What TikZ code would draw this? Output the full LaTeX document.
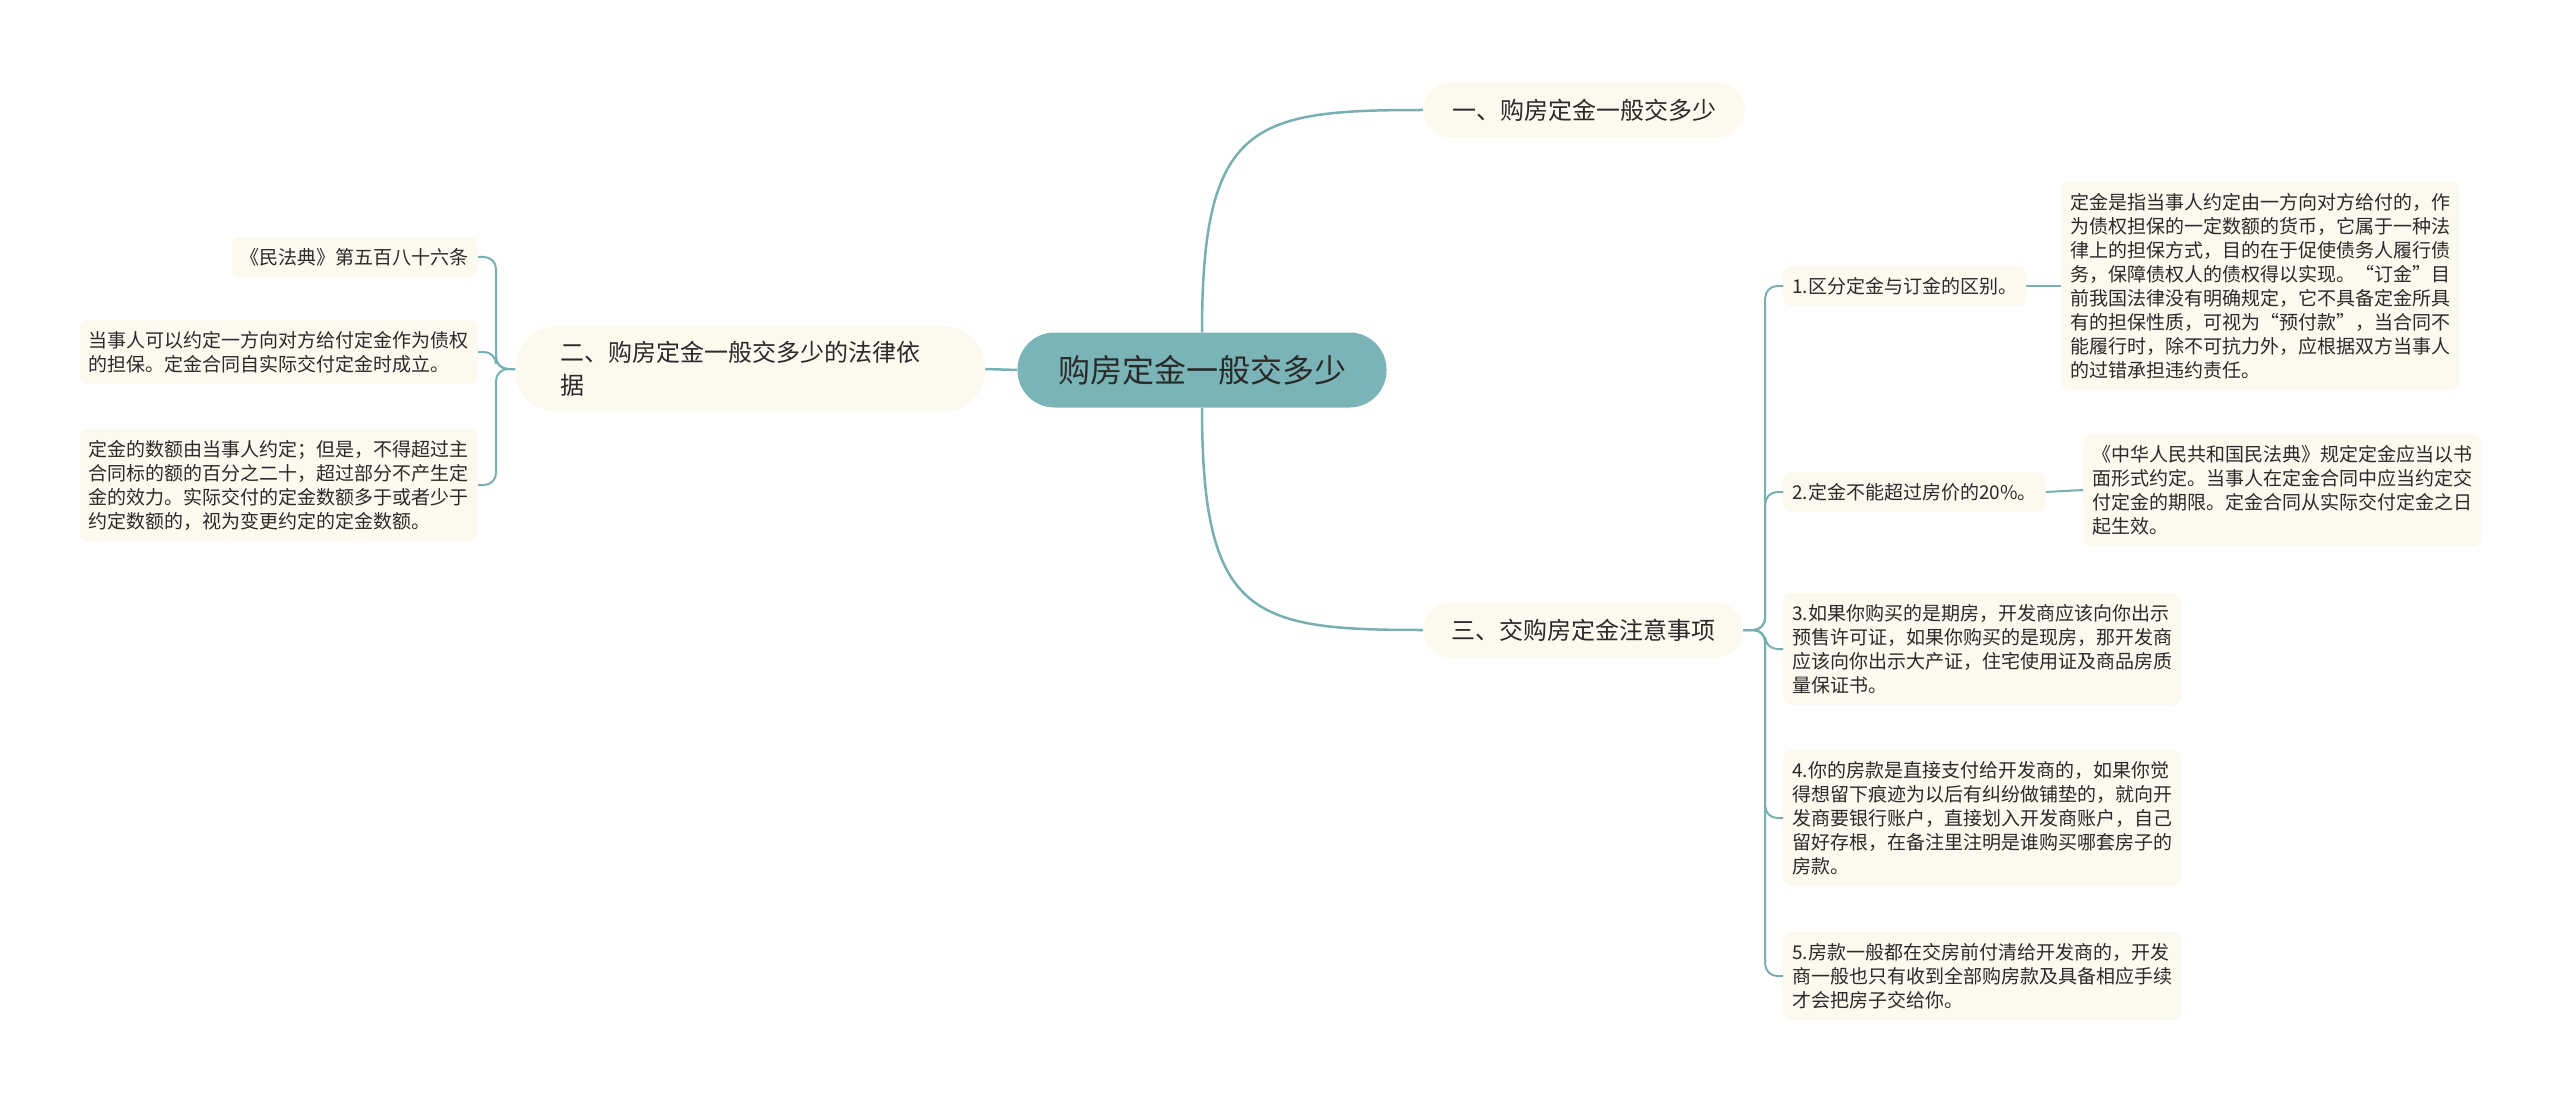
\documentclass[tikz,border=0pt]{standalone}
\usepackage{fontspec}
\newfontfamily\cjkfont{Noto Sans CJK SC}
\usepackage{tikz}
\usetikzlibrary{positioning}
\definecolor{linkc}{HTML}{78AFB1}
\definecolor{rootc}{HTML}{7BB4B6}
\definecolor{creamc}{HTML}{FCF9EF}
\definecolor{inkc}{HTML}{2A2A2A}
\tikzset{
  rootbox/.style={fill=rootc,rounded corners=37pt,minimum width=369pt,minimum height=75pt,font=\cjkfont\fontsize{32}{38}\selectfont,text=inkc},
  topic/.style={fill=creamc,rounded corners=27pt,minimum height=55pt,font=\cjkfont\fontsize{24}{33}\selectfont,text=inkc},
  leaf/.style={fill=creamc,rounded corners=8pt,inner xsep=9pt,inner ysep=11pt,align=left,font=\cjkfont\fontsize{19}{24}\selectfont,text=inkc},
  link/.style={draw=linkc,line width=2pt},
  bus/.style={link,rounded corners=12pt}
}
\begin{document}
\begin{tikzpicture}[x=1pt,y=-1pt]
\useasboundingbox (0,0) rectangle (2560,1102);
% centre and main topics
\node[rootbox] (root) at (1202,370) {购房定金一般交多少};
\node[topic,minimum width=322pt] (t1) at (1584,110) {一、购房定金一般交多少};
\node[topic,anchor=west,rounded corners=42pt,align=left,text width=380pt,inner xsep=45pt,inner ysep=15pt] (t2) at (515,369) {二、购房定金一般交多少的法律依\\据};
\node[topic,minimum width=320pt] (t3) at (1583,630) {三、交购房定金注意事项};
% left leaves
\node[leaf,anchor=east] (l1) at (478,257) {《民法典》第五百八十六条};
\node[leaf,anchor=east] (l2) at (478,352) {当事人可以约定一方向对方给付定金作为债权\\的担保。定金合同自实际交付定金时成立。};
\node[leaf,anchor=east] (l3) at (478,485) {定金的数额由当事人约定；但是，不得超过主\\合同标的额的百分之二十，超过部分不产生定\\金的效力。实际交付的定金数额多于或者少于\\约定数额的，视为变更约定的定金数额。};
% right leaves
\node[leaf,anchor=west] (c1) at (1783,286) {1.区分定金与订金的区别。};
\node[leaf,anchor=west] (c2) at (1783,492) {2.定金不能超过房价的20\%。};
\node[leaf,anchor=west] (c3) at (1783,649) {3.如果你购买的是期房，开发商应该向你出示\\预售许可证，如果你购买的是现房，那开发商\\应该向你出示大产证，住宅使用证及商品房质\\量保证书。};
\node[leaf,anchor=west] (c4) at (1783,818) {4.你的房款是直接支付给开发商的，如果你觉\\得想留下痕迹为以后有纠纷做铺垫的，就向开\\发商要银行账户，直接划入开发商账户，自己\\留好存根，在备注里注明是谁购买哪套房子的\\房款。};
\node[leaf,anchor=west] (c5) at (1783,976) {5.房款一般都在交房前付清给开发商的，开发\\商一般也只有收到全部购房款及具备相应手续\\才会把房子交给你。};
\node[leaf,anchor=west] (d1) at (2061,286) {定金是指当事人约定由一方向对方给付的，作\\为债权担保的一定数额的货币，它属于一种法\\律上的担保方式，目的在于促使债务人履行债\\务，保障债权人的债权得以实现。“订金”目\\前我国法律没有明确规定，它不具备定金所具\\有的担保性质，可视为“预付款”，当合同不\\能履行时，除不可抗力外，应根据双方当事人\\的过错承担违约责任。};
\node[leaf,anchor=west] (d2) at (2083,490) {《中华人民共和国民法典》规定定金应当以书\\面形式约定。当事人在定金合同中应当约定交\\付定金的期限。定金合同从实际交付定金之日\\起生效。};
% connectors
\draw[link,line width=2.5pt] (root.west) -- (t2.east);
\draw[link,line width=2.5pt] (root.north) .. controls +(0,-210) and +(-170,0) .. (t1.west);
\draw[link,line width=2.5pt] (root.south) .. controls +(0,210) and +(-170,0) .. (t3.west);
\foreach \lf in {l1,l2,l3}
  \draw[bus] (t2.west) -- ++(-19,0) |- (\lf.east);
\foreach \it in {c1,c2,c3,c4,c5}
  \draw[bus] (t3.east) -- ++(22,0) |- (\it.west);
\draw[link] (c1.east) -- (d1.west);
\draw[link] (c2.east) -- (d2.west);
\end{tikzpicture}
\end{document}
